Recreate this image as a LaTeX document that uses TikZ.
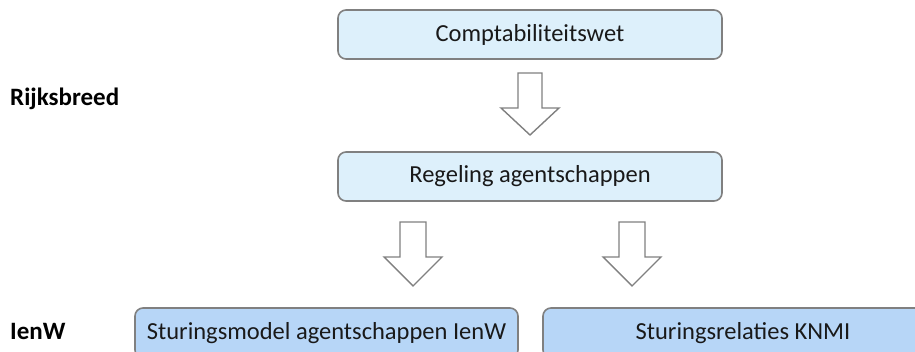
\documentclass[tikz,border=0pt]{standalone}
\usepackage{fontspec}
\setmainfont{Carlito}
\definecolor{lightbox}{RGB}{221,240,251}
\definecolor{midbox}{RGB}{183,214,247}
\definecolor{edgegray}{RGB}{128,128,128}
\begin{document}
\begin{tikzpicture}[x=1pt,y=1pt,
  box/.style={draw=edgegray,line width=1.6pt,rounded corners=8pt,inner sep=0pt,anchor=center,font=\fontsize{24.5}{28}\selectfont,text=black!90},
  topbox/.style={box,fill=lightbox,minimum width=384pt,minimum height=49pt},
  lowbox/.style={box,fill=midbox,minimum height=50pt},
  side/.style={font=\bfseries\fontsize{25}{30}\selectfont,anchor=west,inner sep=0pt},
  blockarrow/.style={draw=edgegray,line width=1.4pt,fill=white,line join=miter}]
\useasboundingbox (0,0) rectangle (915,352);
\clip (0,0) rectangle (915,352);
\node[topbox] (comp) at (530,317.5) {Comptabiliteitswet};
\node[topbox] (reg) at (530,175.5) {Regeling agentschappen};
\node[lowbox,minimum width=383pt] (stm) at (326.5,19) {Sturingsmodel agentschappen IenW};
\node[lowbox,minimum width=400pt] (str) at (743,19) {Sturingsrelaties KNMI};
\node[side] (rijks) at (10,253) {Rijksbreed};
\node[side] (ienw) at (10,21) {IenW};
% block arrows
\draw[blockarrow] (518,279) -- (542,279) -- (542,244) -- (559,244) -- (530,217) -- (501,244) -- (518,244) -- cycle;
\draw[blockarrow] (400,130) -- (426,130) -- (426,95) -- (442,95) -- (413,66) -- (384,95) -- (400,95) -- cycle;
\draw[blockarrow] (619,130) -- (645,130) -- (645,95) -- (661,95) -- (632,66) -- (603,95) -- (619,95) -- cycle;
\end{tikzpicture}
\end{document}
